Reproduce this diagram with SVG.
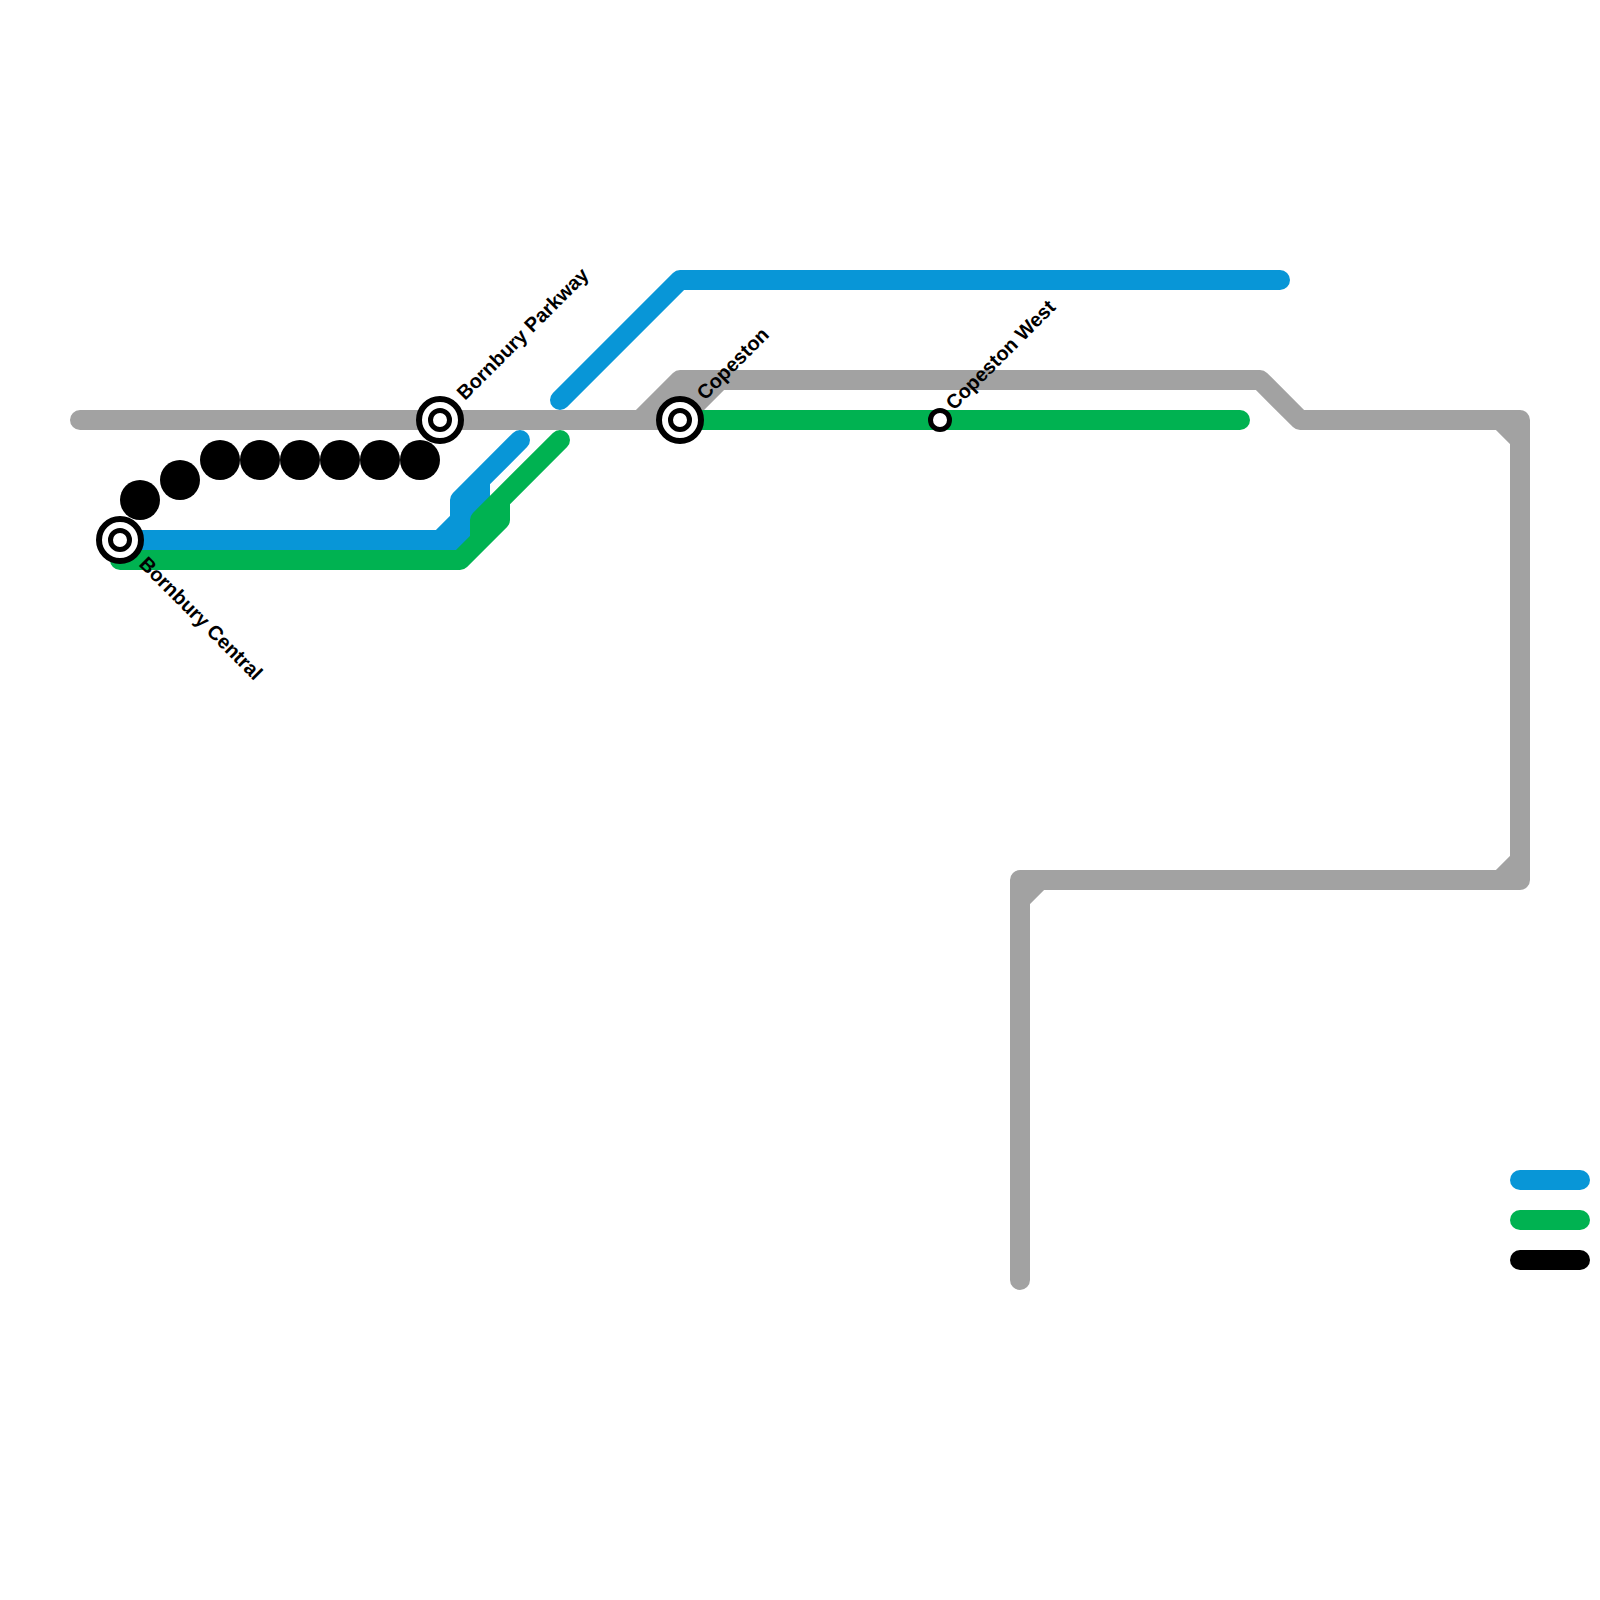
<svg xmlns="http://www.w3.org/2000/svg" width="1600" height="1600" viewBox="0 0 1600 1600">
<style>
.l{fill:none;stroke-width:20;stroke-linecap:round;stroke-linejoin:round}
.g{stroke:#a2a2a2}.b{stroke:#0896d7}.n{stroke:#00b251}.k{stroke:#000}
.o{fill:#fff;stroke:#000;stroke-width:6}
.i{fill:#fff;stroke:#000;stroke-width:5}
.t{font-family:"Liberation Sans",Arial,sans-serif;font-size:20px;font-weight:700;fill:#000;text-rendering:geometricPrecision}
</style>
<g id="connectors">
<path class="l g" d="M80 420H680L720 380M640 420L680 380H1260L1300 420H1520V880H1020V1280M1500 420L1520 440M1500 880L1520 860M1020 900L1040 880M660 400H700"/>
<path class="l b" d="M560 400L680 280H1280"/>
<path class="l b" d="M120 540H460M440 540L480 500M460 540V500L520 440M480 500V480"/>
<path class="l n" d="M120 560H460L500 520V500M480 540V520L560 440"/>
<path class="l n" d="M680 420H1240"/>
<path class="l b" d="M1520 1180H1580"/>
<path class="l n" d="M1520 1220H1580"/>
<path class="l k" d="M1520 1260H1580"/>
</g>
<g id="dots">
<circle cx="140" cy="500" r="20"/><circle cx="180" cy="480" r="20"/><circle cx="220" cy="460" r="20"/><circle cx="260" cy="460" r="20"/><circle cx="300" cy="460" r="20"/><circle cx="340" cy="460" r="20"/><circle cx="380" cy="460" r="20"/><circle cx="420" cy="460" r="20"/>
</g>
<g id="bornbury-central"><circle class="o" cx="120" cy="540" r="21"/><circle class="i" cx="120" cy="540" r="9.5"/><text class="t" transform="translate(138 565) rotate(45)">Bornbury Central</text></g>
<g id="bornbury-parkway"><circle class="o" cx="440" cy="420" r="21"/><circle class="i" cx="440" cy="420" r="9.5"/><text class="t" transform="translate(465 401) rotate(-45)">Bornbury Parkway</text></g>
<g id="copeston"><circle class="o" cx="680" cy="420" r="21"/><circle class="i" cx="680" cy="420" r="9.5"/><text class="t" transform="translate(705 401) rotate(-45)">Copeston</text></g>
<g id="copeston-west"><circle class="i" cx="940" cy="420" r="9.5"/><text class="t" transform="translate(954 411) rotate(-45)">Copeston West</text></g>
</svg>
